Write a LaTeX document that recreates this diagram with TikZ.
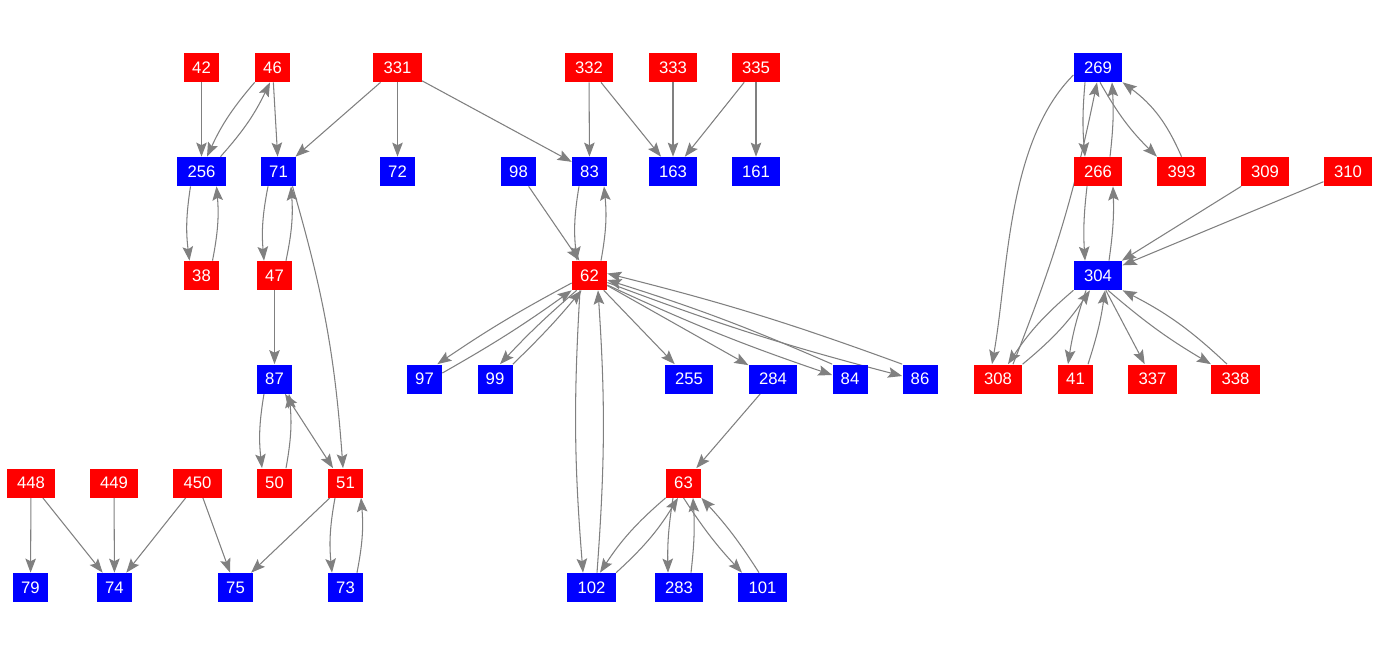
\documentclass[tikz,border=0pt]{standalone}
\usepackage{fontspec}
\setmainfont{Liberation Sans}
\usetikzlibrary{arrows.meta}
\definecolor{nred}{RGB}{255,0,0}
\definecolor{nblue}{RGB}{0,0,255}
\definecolor{egray}{RGB}{128,128,128}
\pgfdeclarelayer{edgelayer}
\pgfsetlayers{edgelayer,main}
\begin{document}
\begin{tikzpicture}[x=0.02cm,y=-0.02cm,
  nd/.style={rectangle,inner sep=0pt,minimum height=0.58cm,text=white,font=\fontsize{9.5}{11}\selectfont},
  w2/.style={nd,minimum width=0.70cm},
  w3/.style={nd,minimum width=0.97cm},
  rr/.style={fill=nred},
  bb/.style={fill=nblue},
  e/.style={draw=egray,line width=0.6pt,-{Stealth[length=8pt,width=6pt,inset=1.5pt]}},
  ee/.style={draw=egray,line width=0.6pt,{Stealth[length=8pt,width=6pt,inset=1.5pt]}-{Stealth[length=8pt,width=6pt,inset=1.5pt]}}]
\begin{pgfonlayer}{edgelayer}
\fill[white] (0,0) rectangle (1381,656);
\end{pgfonlayer}
\useasboundingbox (0,0) rectangle (1381,656);
% row 1
\node[w2,rr] (n42) at (201.5,67.5) {42};
\node[w2,rr] (n46) at (272.5,67.5) {46};
\node[w3,rr] (n331) at (397.5,67.5) {331};
\node[w3,rr] (n332) at (589,67.5) {332};
\node[w3,rr] (n333) at (673,67.5) {333};
\node[w3,rr] (n335) at (756,67.5) {335};
\node[w3,bb] (n269) at (1098,67.5) {269};
% row 2
\node[w3,bb] (n256) at (201.5,171.5) {256};
\node[w2,bb] (n71) at (278.5,171.5) {71};
\node[w2,bb] (n72) at (397.5,171.5) {72};
\node[w2,bb] (n98) at (518.5,171.5) {98};
\node[w2,bb] (n83) at (589.5,171.5) {83};
\node[w3,bb] (n163) at (673,171.5) {163};
\node[w3,bb] (n161) at (756,171.5) {161};
\node[w3,rr] (n266) at (1098,171.5) {266};
\node[w3,rr] (n393) at (1181.5,171.5) {393};
\node[w3,rr] (n309) at (1265,171.5) {309};
\node[w3,rr] (n310) at (1348,171.5) {310};
% row 3
\node[w2,rr] (n38) at (201.5,275.5) {38};
\node[w2,rr] (n47) at (274.5,275.5) {47};
\node[w2,rr] (n62) at (589.5,275.5) {62};
\node[w3,bb] (n304) at (1098,275.5) {304};
% row 4
\node[w2,bb] (n87) at (274.5,379) {87};
\node[w2,bb] (n97) at (424.5,379) {97};
\node[w2,bb] (n99) at (495,379) {99};
\node[w3,bb] (n255) at (689,379) {255};
\node[w3,bb] (n284) at (773,379) {284};
\node[w2,bb] (n84) at (850,379) {84};
\node[w2,bb] (n86) at (920,379) {86};
\node[w3,rr] (n308) at (998,379) {308};
\node[w2,rr] (n41) at (1075.5,379) {41};
\node[w3,rr] (n337) at (1152.5,379) {337};
\node[w3,rr] (n338) at (1235.5,379) {338};
% row 5
\node[w3,rr] (n448) at (31,483) {448};
\node[w3,rr] (n449) at (114,483) {449};
\node[w3,rr] (n450) at (197.5,483) {450};
\node[w2,rr] (n50) at (274.5,483) {50};
\node[w2,rr] (n51) at (345.5,483) {51};
\node[w2,rr] (n63) at (683.5,483) {63};
% row 6
\node[w2,bb] (n79) at (30.5,587.5) {79};
\node[w2,bb] (n74) at (114.5,587.5) {74};
\node[w2,bb] (n75) at (235.5,587.5) {75};
\node[w2,bb] (n73) at (345.5,587.5) {73};
\node[w3,bb] (n102) at (591.5,587.5) {102};
\node[w3,bb] (n283) at (679,587.5) {283};
\node[w3,bb] (n101) at (762.5,587.5) {101};
\begin{pgfonlayer}{edgelayer}
% straight edges
\draw[e] (n42) -- (n256);
\draw[e] (n46) -- (n71);
\draw[e] (n331) -- (n71);
\draw[e] (n331) -- (n72);
\draw[e] (n331) -- (n83);
\draw[e] (n332) -- (n83);
\draw[e] (n332) -- (n163);
\draw[e] (n333) -- (n163);
\draw[e] (n335) -- (n163);
\draw[e] (n335) -- (n161);
\draw[e] (n98) -- (n62);
\draw[e] (n47) -- (n87);
\draw[e] (n448) -- (n79);
\draw[e] (n448) -- (n74);
\draw[e] (n449) -- (n74);
\draw[e] (n450) -- (n74);
\draw[e] (n450) -- (n75);
\draw[e] (n51) -- (n75);
\draw[e] (n62) -- (n255);
\draw[e] (n62) -- (n284);
\draw[e] (n284) -- (n63);
\draw[e] (n309) -- (n304);
\draw[e] (n310) -- (n304);
\draw[e] (n304) -- (n337);
% left cluster pairs
\draw[e] (n46.south west) to[bend right=8] ([xshift=0.11cm]n256.north);
\draw[e] ([xshift=0.38cm]n256.north) to[bend right=8] ([xshift=-0.05cm]n46.south);
\draw[e] ([xshift=-0.22cm]n256.south) to[bend right=8] ([xshift=-0.24cm]n38.north);
\draw[e] ([xshift=0.22cm]n38.north) to[bend right=8] ([xshift=0.3cm]n256.south);
\draw[e] ([xshift=-0.21cm]n71.south) to[bend right=8] ([xshift=-0.21cm]n47.north);
\draw[e] ([xshift=0.23cm]n47.north) to[bend right=8] ([xshift=0.25cm]n71.south);
\draw[e] ([xshift=0.28cm]n71.south) to[bend left=6] ([xshift=-0.05cm]n51.north);
\draw[e] ([xshift=-0.21cm]n87.south) to[bend right=8] ([xshift=-0.25cm]n50.north);
\draw[e] ([xshift=0.23cm]n50.north) to[bend right=8] ([xshift=0.29cm]n87.south);
\draw[ee] ([xshift=0.21cm]n87.south) -- ([xshift=-0.25cm]n51.north);
\draw[e] ([xshift=-0.21cm]n51.south) to[bend right=8] ([xshift=-0.27cm]n73.north);
\draw[e] ([xshift=0.23cm]n73.north) to[bend right=8] ([xshift=0.31cm]n51.south);
% middle cluster pairs
\draw[e] ([xshift=-0.21cm]n83.south) to[bend right=8] ([xshift=-0.25cm]n62.north);
\draw[e] ([xshift=0.23cm]n62.north) to[bend right=8] ([xshift=0.29cm]n83.south);
\draw[e] ([xshift=-0.19cm]n62.south) to[bend right=4] ([xshift=-0.17cm]n102.north);
\draw[e] ([xshift=0.11cm]n102.north) to[bend right=4] ([xshift=0.17cm]n62.south);
\draw[e] ([yshift=-0.15cm]n62.west) to[bend right=3] ([xshift=-0.1cm]n97.north east);
\draw[e] ([yshift=0.12cm]n97.east) to[bend right=3] (n62.south west);
\draw[e] ([xshift=0.1cm]n62.south west) to[bend right=3] ([xshift=0.1cm]n99.north);
\draw[e] (n99.north east) to[bend right=3] ([xshift=-0.16cm]n62.south);
\draw[e] ([yshift=-0.19cm]n62.east) to[bend right=3] ([yshift=0.08cm]n84.west);
\draw[e] (n84.north west) to[bend right=3] ([yshift=-0.09cm]n62.east);
\draw[e] ([yshift=-0.14cm]n62.east) to[bend right=3] ([yshift=0.06cm]n86.west);
\draw[e] (n86.north west) to[bend right=3] ([yshift=0.04cm]n62.east);
\draw[e] (n63.south west) to[bend right=8] ([xshift=0.17cm]n102.north);
\draw[e] (n102.north east) to[bend right=8] ([xshift=-0.11cm]n63.south);
\draw[e] ([xshift=-0.21cm]n63.south) to[bend right=5] ([xshift=-0.22cm]n283.north);
\draw[e] ([xshift=0.24cm]n283.north) to[bend right=5] ([xshift=0.19cm]n63.south);
\draw[e] (n63.south) to[bend right=5] ([xshift=-0.41cm]n101.north);
\draw[e] ([xshift=-0.07cm]n101.north) to[bend right=5] (n63.south east);
% right cluster pairs
\draw[e] ([xshift=-0.26cm]n269.south) to[bend right=5] ([xshift=-0.26cm]n266.north);
\draw[e] ([xshift=0.24cm]n266.north) to[bend right=5] ([xshift=0.28cm]n269.south);
\draw[e] ([xshift=-0.22cm]n266.south) to[bend right=5] ([xshift=-0.26cm]n304.north);
\draw[e] ([xshift=0.22cm]n304.north) to[bend right=5] ([xshift=0.3cm]n266.south);
\draw[e] ([yshift=-0.15cm]n269.west) to[out=225,in=80,looseness=0.8] ([xshift=-0.12cm]n308.north);
\draw[e] ([xshift=0.3cm]n308.north) to[bend right=5] ([xshift=-0.02cm]n269.south);
\draw[e] (n304.south west) to[bend right=8] ([xshift=0.2cm]n308.north);
\draw[e] (n308.north east) to[bend right=8] ([xshift=-0.16cm]n304.south);
\draw[e] ([xshift=-0.24cm]n304.south) to[bend right=5] ([xshift=-0.15cm]n41.north);
\draw[e] ([xshift=0.25cm]n41.north) to[bend right=5] ([xshift=0.14cm]n304.south);
\draw[e] ([xshift=0.04cm]n269.south) to[bend right=8] (n393.north west);
\draw[e] (n393.north) to[bend right=15] (n269.south east);
\draw[e] ([xshift=0.2cm]n304.south) to[bend right=5] (n338.north west);
\draw[e] ([xshift=-0.17cm]n338.north) to[bend right=8] (n304.south east);
\end{pgfonlayer}
\end{tikzpicture}
\end{document}
